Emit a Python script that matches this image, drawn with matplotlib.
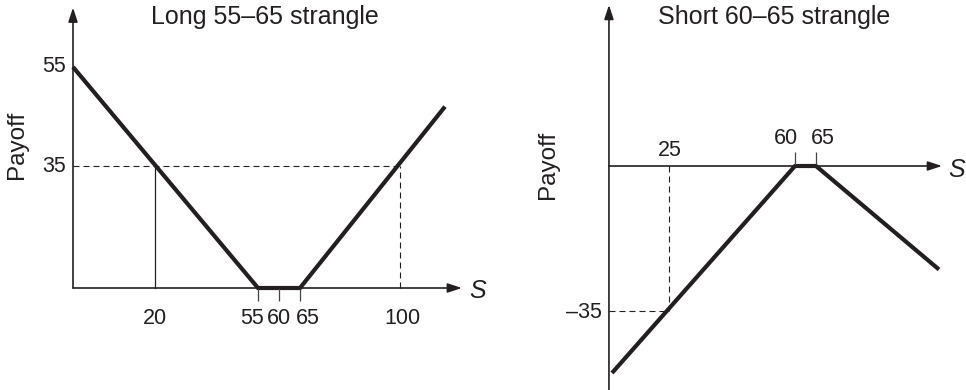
import numpy as np
import matplotlib
matplotlib.use('Agg')
import matplotlib.pyplot as plt
from matplotlib.markers import TICKDOWN, TICKUP

# =========================== data ===========================
# long 55-65 strangle: payoff kinks
long_S = [0, 55, 65, 112]
long_payoff = [55, 0, 0, 47]
long_strikes = [55, 60, 65]
long_level = 35                 # payoff level marked by the dashed line
long_cross = [20, 100]          # S where payoff hits that level
long_ylabels = [55, 35]

# short 60-65 strangle
short_S = [10, 60, 65, 90]
short_payoff = [-50, 0, 0, -25]
short_strikes = [60, 65]
short_level = -35
short_cross = 25

# =========================== layout ===========================
W, H = 966, 390
INK = '#231f20'
TICK_FS = 15.5
plt.rcParams['font.family'] = ['Liberation Sans', 'DejaVu Sans']

# the chart is schematic (not to scale): piecewise axes, knots -> figure pixels
left_x_knots, left_x_px = [-20, 0, 20, 55, 60, 65, 100, 140], [-9, 73, 155, 258, 279, 300, 400, 550]
left_y_knots, left_y_px = [-50, 0, 35, 55, 80], [-72.5, 102, 224, 323, 446.75]
right_x_knots, right_x_px = [-40, 10, 25, 60, 65, 90, 120], [422, 612, 669, 795, 816, 939, 1086.6]
right_y_knots, right_y_px = [-80, 0, 80], [-107.2, 224, 555.2]


def piecewise(ax, xk, xp, yk, yp, x0, x1):
    fx = (lambda v: np.interp(v, xk, xp), lambda p: np.interp(p, xp, xk))
    fy = (lambda v: np.interp(v, yk, yp), lambda p: np.interp(p, yp, yk))
    ax.set_xscale('function', functions=fx)
    ax.set_yscale('function', functions=fy)
    ax.set_xlim(fx[1](x0), fx[1](x1))
    ax.set_ylim(fy[1](0), fy[1](H))
    ax.axis('off')
    ax.patch.set_alpha(0)


def arrow(ax, start, end):
    ax.annotate('', xy=end, xytext=start,
                arrowprops=dict(arrowstyle='-|>,head_length=0.85,head_width=0.28',
                                mutation_scale=10, lw=1.2, color=INK,
                                shrinkA=0, shrinkB=0))


def label(ax, txt, xy, dx, dy, ha='center', size=TICK_FS):
    return ax.annotate(txt, xy=xy, xytext=(dx, dy), textcoords='offset pixels',
                       ha=ha, va='center', fontsize=size, color=INK)


fig = plt.figure(figsize=(W / 100, H / 100), dpi=100)
ax1 = fig.add_axes([0, 0, 0.5, 1])
ax2 = fig.add_axes([0.5, 0, 0.5, 1])
piecewise(ax1, left_x_knots, left_x_px, left_y_knots, left_y_px, 0, W / 2)
piecewise(ax2, right_x_knots, right_x_px, right_y_knots, right_y_px, W / 2, W)

# -------------------- left: long strangle --------------------
arrow(ax1, (0, 0), (0, 67))
arrow(ax1, (0, 0), (116.5, 0))
ax1.plot([0, long_cross[1]], [long_level, long_level], color=INK, lw=0.8, ls=(0, (5.4, 3.6)))
ax1.plot([long_cross[0]] * 2, [0, long_level], color=INK, lw=0.9)
ax1.plot([long_cross[1]] * 2, [0, long_level], color=INK, lw=0.8, ls=(0, (5.4, 3.6)))
ax1.plot(long_S, long_payoff, color=INK, lw=3, solid_joinstyle='miter', solid_capstyle='butt')
ax1.plot(long_strikes, [0] * len(long_strikes), ls='none', marker=TICKDOWN,
         ms=9, mew=0.9, color='#444')
for v, dx in zip(long_cross[:1] + long_strikes + long_cross[1:], [0, -6, 0, 8, 2]):
    label(ax1, str(v), (v, 0), dx, -31)
for v in long_ylabels:
    label(ax1, str(v), (0, v), -7, 0, ha='right')
label(ax1, 'S', (116.5, 0), 7, -3, ha='left', size=18).set_style('italic')

# -------------------- right: short strangle --------------------
arrow(ax2, (9.2, -60), (9.2, 38.9))
arrow(ax2, (9.2, 0), (90.6, 0))
ax2.plot([9.2, short_cross], [short_level, short_level], color=INK, lw=0.8, ls=(0, (5.4, 3.6)))
ax2.plot([short_cross] * 2, [0, short_level], color=INK, lw=0.8, ls=(0, (5.4, 3.6)))
ax2.plot(short_S, short_payoff, color=INK, lw=3, solid_joinstyle='miter', solid_capstyle='butt')
ax2.plot(short_strikes, [0] * len(short_strikes), ls='none', marker=TICKUP,
         ms=10, mew=0.9, color='#444')
label(ax2, str(short_cross), (short_cross, 0), 1, 15)
for v, dx in zip(short_strikes, [-9, 7]):
    label(ax2, str(v), (v, 0), dx, 28)
label(ax2, '\u2013' + str(abs(short_level)), (9.2, short_level), -7, -2, ha='right')
label(ax2, 'S', (90.6, 0), 6, -4, ha='left', size=18).set_style('italic')

# -------------------- titles / axis names --------------------
for cx, txt in [(265, 'Long 55\u201365 strangle'), (774, 'Short 60\u201365 strangle')]:
    fig.text(cx / W, 1 - 17 / H, txt, ha='center', va='center', fontsize=18, color=INK)
for cx, cy in [(17, 145), (548, 165)]:
    fig.text(cx / W, 1 - cy / H, 'Payoff', rotation=90, ha='center', va='center',
             fontsize=17.5, color=INK)

fig.savefig('out.png', dpi=100)
